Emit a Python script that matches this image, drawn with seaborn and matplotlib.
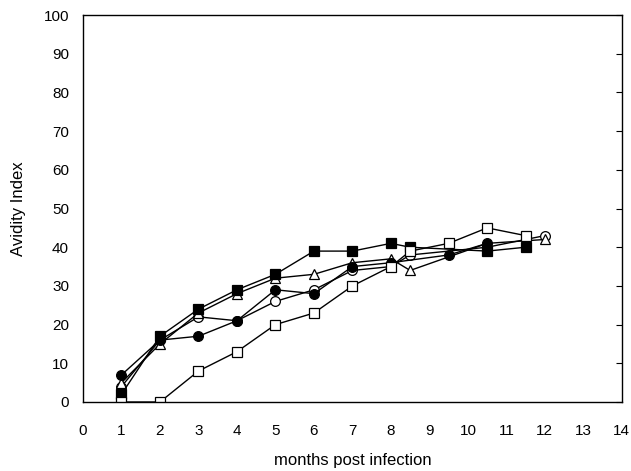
import matplotlib
matplotlib.use("Agg")
import matplotlib.pyplot as plt
import seaborn as sns
import pandas as pd

sns.set_style("white")
plt.rcParams['font.family'] = ['Liberation Sans', 'DejaVu Sans']
plt.rcParams['font.size'] = 11
plt.rcParams['text.color'] = 'black'
plt.rcParams['axes.labelcolor'] = 'black'
plt.rcParams['xtick.color'] = 'black'
plt.rcParams['ytick.color'] = 'black'

# Data (months post infection vs avidity index)
open_circle_x = [1, 2, 3, 4, 5, 6, 7, 8, 8.5, 10.5, 12]
open_circle_y = [4, 16, 22, 21, 26, 29, 34, 35, 38, 40, 43]

open_triangle_x = [1, 2, 3, 4, 5, 6, 7, 8, 8.5, 10.5, 12]
open_triangle_y = [5, 15, 23, 28, 32, 33, 36, 37, 34, 41, 42]

filled_square_x = [1, 2, 3, 4, 5, 6, 7, 8, 8.5, 10.5, 11.5]
filled_square_y = [2, 17, 24, 29, 33, 39, 39, 41, 40, 39, 40]

filled_circle_x = [1, 2, 3, 4, 5, 6, 7, 8, 9.5, 10.5]
filled_circle_y = [7, 16, 17, 21, 29, 28, 35, 36, 38, 41]

open_square_x = [1, 2, 3, 4, 5, 6, 7, 8, 8.5, 9.5, 10.5, 11.5]
open_square_y = [0, 0, 8, 13, 20, 23, 30, 35, 39, 41, 45, 43]

series = [
    (open_circle_x, open_circle_y, 'o', 'white'),
    (open_triangle_x, open_triangle_y, '^', 'white'),
    (filled_square_x, filled_square_y, 's', 'black'),
    (filled_circle_x, filled_circle_y, 'o', 'black'),
    (open_square_x, open_square_y, 's', 'white'),
]

fig = plt.figure(figsize=(6.31, 4.71), dpi=100)
ax = fig.add_axes([0.1315, 0.1465, 0.854, 0.8215])

for xs, ys, m, fc in series:
    df = pd.DataFrame({'x': xs, 'y': ys})
    sns.lineplot(data=df, x='x', y='y', ax=ax, color='black', linewidth=1,
                 marker=m, markersize=7, markerfacecolor=fc,
                 markeredgecolor='black', markeredgewidth=0.9,
                 estimator=None, sort=False)

ax.set_xlim(0, 14)
ax.set_ylim(0, 100)
ax.set_xticks(range(0, 15))
ax.set_yticks(range(0, 101, 10))

for s in ax.spines.values():
    s.set_color('black')
    s.set_linewidth(1)

ax.tick_params(axis='x', direction='out', length=4, width=0.8, pad=12, labelsize=11)
ax.tick_params(axis='y', direction='out', length=4, width=0.8, pad=6, labelsize=11, right=True)
ax.tick_params(axis='y', which='both', labelright=False)
for t in ax.yaxis.get_ticklines()[1::2]:
    t.set_marker(0)  # right-hand ticks point inward

ax.set_xlabel('months post infection', fontsize=12, labelpad=11)
ax.set_ylabel('Avidity Index', fontsize=12, labelpad=13)

fig.savefig('out.png', dpi=100)
